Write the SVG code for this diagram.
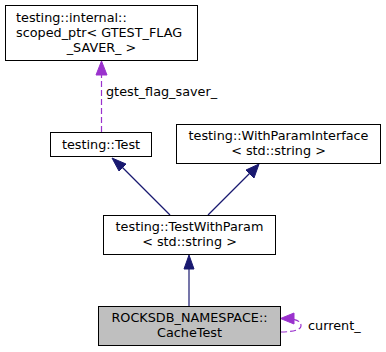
<svg xmlns="http://www.w3.org/2000/svg" width="386" height="352" viewBox="0 0 386 352">
  <style>
    .box { fill: #ffffff; stroke: #000000; stroke-width: 1; }
    .cur { fill: #bfbfbf; stroke: #000000; stroke-width: 1; }
    text { font-family: "DejaVu Sans", "Liberation Sans", sans-serif; font-size: 12.8px; fill: #000000; }
    .mid { text-anchor: middle; }
    .inh { fill: none; stroke: #191970; stroke-width: 1.2; }
    .inhHead { fill: #191970; stroke: #191970; }
    .use { fill: none; stroke: #9a32cd; stroke-width: 1.2; stroke-dasharray: 6,3; }
    .useHead { fill: #9a32cd; stroke: #9a32cd; }
  </style>

  <!-- connectors -->
  <g id="edges">
    <!-- scoped_ptr member of Test -->
    <path class="use" d="M101.5,132 L101.5,74"/>
    <polygon class="useHead" points="101.5,61 107,75 96,75"/>
    <text x="106" y="96">gtest_flag_saver_</text>

    <!-- TestWithParam -> Test -->
    <path class="inh" d="M170,215 L121,166"/>
    <polygon class="inhHead" points="112,158 126,164 119,171"/>

    <!-- TestWithParam -> WithParamInterface -->
    <path class="inh" d="M208,215 L250,173"/>
    <polygon class="inhHead" points="259,164 254,178 246,170"/>

    <!-- CacheTest -> TestWithParam -->
    <path class="inh" d="M189,306 L189,268"/>
    <polygon class="inhHead" points="189,255 194,269 184,269"/>

    <!-- self reference -->
    <path class="use" d="M281,332 C292,332 301,330 301,326 C301,322 298,320 292,319"/>
    <polygon class="useHead" points="280.5,318.5 294,313 294,324"/>
    <text x="308" y="330">current_</text>
  </g>

  <g id="node-scoped-ptr">
    <rect class="box" x="5.5" y="5.5" width="192" height="55"/>
    <text x="16" y="22">testing::internal::</text>
    <text x="16" y="37">scoped_ptr&lt; GTEST_FLAG</text>
    <text class="mid" x="101.5" y="52">_SAVER_ &gt;</text>
  </g>

  <g id="node-test">
    <rect class="box" x="50.5" y="132.5" width="101" height="24"/>
    <text class="mid" x="101" y="148.5">testing::Test</text>
  </g>

  <g id="node-with-param-interface">
    <rect class="box" x="176.5" y="124.5" width="204" height="39"/>
    <text class="mid" x="278.5" y="140">testing::WithParamInterface</text>
    <text class="mid" x="278.5" y="155">&lt; std::string &gt;</text>
  </g>

  <g id="node-test-with-param">
    <rect class="box" x="103.5" y="215.5" width="172" height="39"/>
    <text class="mid" x="189.5" y="231">testing::TestWithParam</text>
    <text class="mid" x="189.5" y="246">&lt; std::string &gt;</text>
  </g>

  <g id="node-cache-test">
    <rect class="cur" x="98.5" y="306.5" width="182" height="39"/>
    <text class="mid" x="189.5" y="322">ROCKSDB_NAMESPACE::</text>
    <text class="mid" x="189.5" y="337">CacheTest</text>
  </g>
</svg>
